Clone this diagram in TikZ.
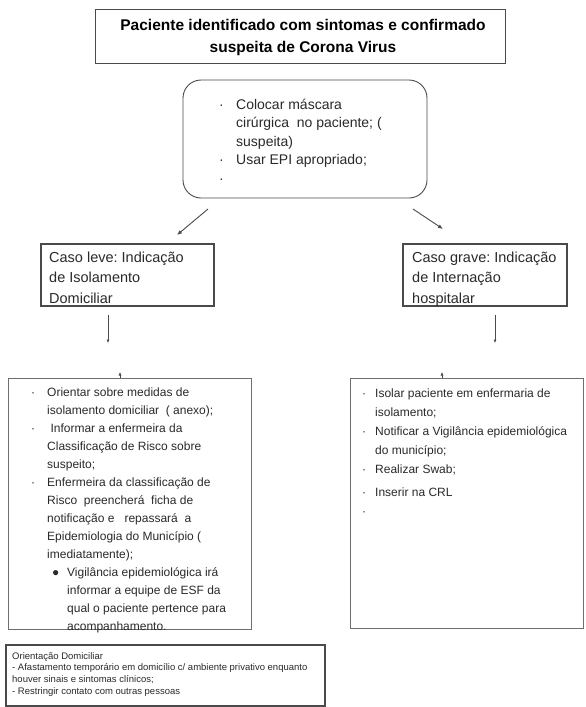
\documentclass[tikz,border=0pt]{standalone}
\usepackage{fontspec}
\setmainfont{Liberation Sans}
\usetikzlibrary{arrows.meta}
\definecolor{lineA}{HTML}{4A4A4A}
\definecolor{lineB}{HTML}{6E6E6E}
\definecolor{ink}{HTML}{2A2A2A}
\newcommand\bulA[1]{\makebox[#1][l]{·}}
\newcommand\bulB[1]{\makebox[#1][l]{●}}
\frenchspacing
\begin{document}
\begin{tikzpicture}[x=1pt,y=-1pt,
  frame/.style={draw=lineA, line width=0.9pt, inner sep=0pt, rectangle},
  lightframe/.style={draw=lineB, line width=0.8pt, inner sep=0pt, rectangle},
  txt/.style={anchor=base west, inner sep=0pt, text=ink},
  arr/.style={draw=lineA, line width=0.9pt, -{Latex[length=5pt,width=4pt]}},
  thinarr/.style={draw=lineA, line width=0.6pt, -{Latex[length=3.5pt,width=3pt]}},
  ]
\useasboundingbox (0,0) rectangle (586,707);
\fill[white] (0,0) rectangle (586,707);

% Title
\node[frame, minimum width=410pt, minimum height=54pt] (title) at (300,36) {};
\node[anchor=base, inner sep=0pt, text=black] (titletext) at (303,30)
  {\bfseries\fontsize{15.5}{22}\selectfont\begin{tabular}[t]{@{}c@{}}Paciente identificado com sintomas e confirmado\\suspeita de Corona Virus\end{tabular}};

% Rounded box
\node[frame, rounded corners=18pt, minimum width=244pt, minimum height=118pt] (prec) at (305,139) {};
\node[txt] (prectext) at (219,109)
  {\fontsize{14}{18.5}\selectfont\begin{tabular}[t]{@{}l@{}}\bulA{17pt}Colocar máscara\\
  \hspace*{17pt}cirúrgica\ \ no paciente; (\\
  \hspace*{17pt}suspeita)\\
  \bulA{17pt}Usar EPI apropriado;\\
  \bulA{17pt}\end{tabular}};

% Case boxes
\node[frame, line width=1.1pt, minimum width=173pt, minimum height=62pt] (leve) at (127.5,275) {};
\node[txt] (levetext) at (49,262)
  {\fontsize{14.5}{20.5}\selectfont\begin{tabular}[t]{@{}l@{}}Caso leve: Indicação\\de Isolamento\\Domiciliar\end{tabular}};
\node[frame, line width=1.1pt, minimum width=164pt, minimum height=62pt] (grave) at (485,275) {};
\node[txt] (gravetext) at (412,262)
  {\fontsize{14.5}{20.5}\selectfont\begin{tabular}[t]{@{}l@{}}Caso grave: Indicação\\de Internação\\hospitalar\end{tabular}};

% Big boxes
\node[lightframe, minimum width=243pt, minimum height=251pt] (leveact) at (129.5,503.5) {};
\node[txt] (leveacttext) at (31,396)
  {\fontsize{12}{18}\selectfont\begin{tabular}[t]{@{}l@{}}\bulA{16pt}Orientar sobre medidas de\\
  \hspace*{16pt}isolamento domiciliar\ \ ( anexo);\\
  \bulA{16pt}\ Informar a enfermeira da\\
  \hspace*{16pt}Classificação de Risco sobre\\
  \hspace*{16pt}suspeito;\\
  \bulA{16pt}Enfermeira da classificação de\\
  \hspace*{16pt}Risco\ \ preencherá\ \ ficha de\\
  \hspace*{16pt}notificação e\ \ \ repassará\ \ a\\
  \hspace*{16pt}Epidemiologia do Município (\\
  \hspace*{16pt}imediatamente);\\
  \hspace*{21pt}\bulB{15pt}Vigilância epidemiológica irá\\
  \hspace*{36pt}informar a equipe de ESF da\\
  \hspace*{36pt}qual o paciente pertence para\\
  \hspace*{36pt}acompanhamento.\end{tabular}};

\node[lightframe, minimum width=233pt, minimum height=250pt] (graveact) at (466.5,503) {};
\node[txt] (graveacttext) at (362,397)
  {\fontsize{12}{19}\selectfont\begin{tabular}[t]{@{}l@{}}\bulA{13pt}Isolar paciente em enfermaria de\\
  \hspace*{13pt}isolamento;\\
  \bulA{13pt}Notificar a Vigilância epidemiológica\\
  \hspace*{13pt}do município;\\
  \bulA{13pt}Realizar Swab;\\[4pt]
  \bulA{13pt}Inserir na CRL\\
  \bulA{13pt}\end{tabular}};

% Bottom box
\node[frame, line width=1.4pt, minimum width=319pt, minimum height=61pt] (orient) at (165.5,675.5) {};
\node[txt] (orienttext) at (12,659)
  {\fontsize{9.5}{11.7}\selectfont\begin{tabular}[t]{@{}l@{}}Orientação Domiciliar\\
  - Afastamento temporário em domicílio c/ ambiente privativo enquanto\\
  houver sinais e sintomas clínicos;\\
  - Restringir contato com outras pessoas\end{tabular}};

% Connectors
\coordinate (d1a) at (208,209); \coordinate (d1b) at (177,235);
\coordinate (d2a) at (413,209); \coordinate (d2b) at (443,229);
\coordinate (v1a) at (108,315); \coordinate (v1b) at (108,343);
\coordinate (v2a) at (495,315); \coordinate (v2b) at (495,343);
\coordinate (k1a) at (120,378); \coordinate (k1b) at (120,372);
\coordinate (k2a) at (442,378); \coordinate (k2b) at (442,372);
\draw[arr] (d1a) -- (d1b);
\draw[arr] (d2a) -- (d2b);
\draw[thinarr] (v1a) -- (v1b);
\draw[thinarr] (v2a) -- (v2b);
\draw[thinarr] (k1a) -- (k1b);
\draw[thinarr] (k2a) -- (k2b);
\end{tikzpicture}
\end{document}
